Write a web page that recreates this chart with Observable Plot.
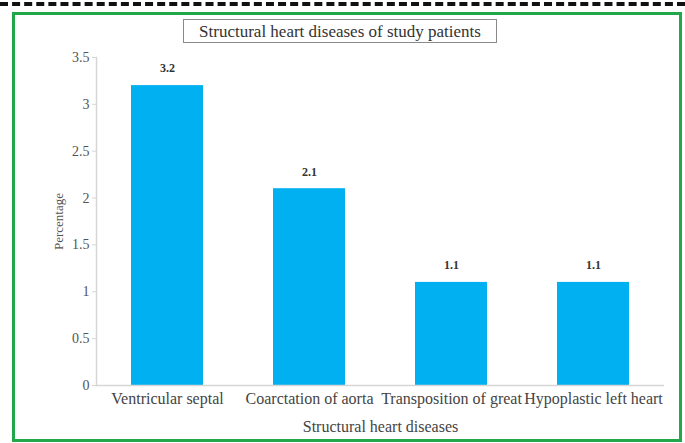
<!DOCTYPE html>
<html>
<head>
<meta charset="utf-8">
<script src="https://cdn.jsdelivr.net/npm/d3@7"></script>
<script src="https://cdn.jsdelivr.net/npm/@observablehq/plot@0.6"></script>
<style>
  html, body { margin: 0; padding: 0; background: #fff; }
  #page { position: relative; width: 685px; height: 443px; overflow: hidden; background: #fff; }
  #dash { position: absolute; left: 0; top: 2px; width: 685px; height: 0; border-top: 4px dashed #111; }
  #frame { position: absolute; left: 12px; top: 12px; width: 664px; height: 424px; border: 3px solid #22a84a; box-sizing: content-box; }
  #title { position: absolute; left: 183px; top: 19px; width: 312px; height: 22px; border: 1.5px solid #8a8a8a;
           font-family: "Liberation Serif", "Times New Roman", serif; font-size: 17px; color: #333;
           text-align: center; line-height: 23px; background: #fff; }
  #chart { position: absolute; left: 0; top: 0; }
</style>
</head>
<body>
<div id="page">
  <div id="dash"></div>
  <div id="frame"></div>
  <div id="chart"></div>
  <div id="title">Structural heart diseases of study patients</div>
</div>
<script>
const categories = ["Ventricular septal", "Coarctation of aorta", "Transposition of great", "Hypoplastic left heart"];
const percentages = [3.2, 2.1, 1.1, 1.1];
const yTicks = [0, 0.5, 1, 1.5, 2, 2.5, 3, 3.5];

const data = categories.map((c, i) => ({category: c, value: percentages[i]}));

const chart = Plot.plot({
  width: 685,
  height: 443,
  marginLeft: 96,
  marginRight: 21,
  marginTop: 57,
  marginBottom: 58,
  style: {fontFamily: "'Liberation Serif', 'Times New Roman', serif", fontSize: "14px", color: "#555", background: "transparent"},
  x: {domain: categories, paddingInner: 0.49, paddingOuter: 0.245, label: null},
  y: {domain: [0, 3.5], label: null},
  marks: [
    Plot.barY(data, {x: "category", y: "value", fill: "#00b0f0"}),
    Plot.ruleY([0], {stroke: "#d6d6d6", strokeWidth: 1.5}),
    Plot.frame({anchor: "left", stroke: "#d6d6d6", strokeWidth: 1.5}),
    Plot.axisY({ticks: yTicks, tickSize: 4, tickPadding: 3, stroke: "#d6d6d6", fill: "#555",
                tickFormat: d => String(d), fontSize: 14}),
    Plot.axisY({ticks: [], label: "Percentage", labelAnchor: "center", labelArrow: "none",
                labelOffset: 43, fontSize: 13, fill: "#555"}),
    Plot.axisX({tickSize: 0, tickPadding: 7, fill: "#444", fontSize: 16, label: null}),
    Plot.axisX({ticks: [], label: "Structural heart diseases", labelAnchor: "center", labelArrow: "none",
                labelOffset: 46, fontSize: 16, fill: "#444"}),
    Plot.text(data, {x: "category", y: "value", text: d => d.value.toFixed(1), dy: -17,
                     fontWeight: "bold", fontSize: 12, fill: "#333"})
  ]
});
document.getElementById("chart").appendChild(chart);
</script>
</body>
</html>
